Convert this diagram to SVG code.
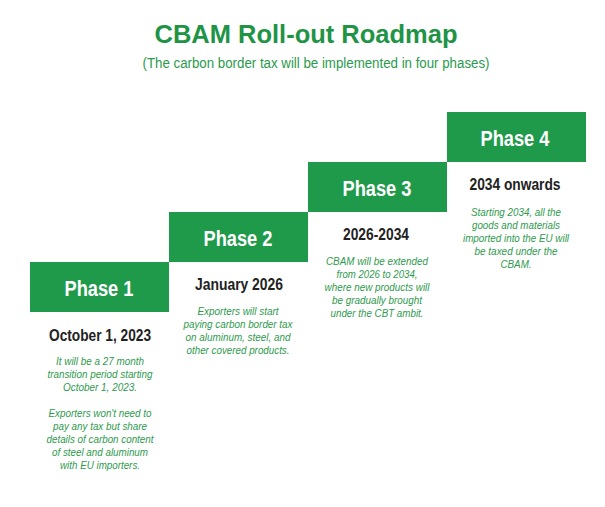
<svg xmlns="http://www.w3.org/2000/svg" width="605" height="507" viewBox="0 0 605 507">
<style>
.bg{fill:#ffffff}
.box{fill:#1f9a4b}
.title{font-family:"Liberation Sans",Arial,sans-serif;font-weight:bold;font-size:25px;fill:#1f9446;text-anchor:middle}
.sub{font-family:"Liberation Sans",Arial,sans-serif;font-size:14px;fill:#2a9a4c;text-anchor:middle}
.ph{font-family:"Liberation Sans",Arial,sans-serif;font-weight:bold;font-size:22px;fill:#ffffff;text-anchor:middle}
.date{font-family:"Liberation Sans",Arial,sans-serif;font-weight:bold;font-size:16px;fill:#222222;text-anchor:middle}
.desc{font-family:"Liberation Sans",Arial,sans-serif;font-style:italic;font-size:11.5px;fill:#2e9a4e;text-anchor:middle}
</style>
<rect class="bg" x="0" y="0" width="605" height="507"/>
<g id="header">
<text class="title" x="306" y="43" textLength="303" lengthAdjust="spacingAndGlyphs">CBAM Roll-out Roadmap</text>
<text class="sub" x="316" y="68" textLength="347" lengthAdjust="spacingAndGlyphs">(The carbon border tax will be implemented in four phases)</text>
</g>
<g id="phase1">
<rect class="box" x="30" y="262" width="139" height="50"/>
<text class="ph" x="99" y="296" textLength="69" lengthAdjust="spacingAndGlyphs">Phase 1</text>
<text class="date" x="100" y="341" textLength="102" lengthAdjust="spacingAndGlyphs">October 1, 2023</text>
<text class="desc" x="100" y="365" textLength="88" lengthAdjust="spacingAndGlyphs">It will be a 27 month</text>
<text class="desc" x="100" y="378" textLength="105" lengthAdjust="spacingAndGlyphs">transition period starting</text>
<text class="desc" x="100" y="391" textLength="74" lengthAdjust="spacingAndGlyphs">October 1, 2023.</text>
<text class="desc" x="100" y="417" textLength="103" lengthAdjust="spacingAndGlyphs">Exporters won't need to</text>
<text class="desc" x="100" y="430" textLength="94" lengthAdjust="spacingAndGlyphs">pay any tax but share</text>
<text class="desc" x="100" y="443" textLength="107" lengthAdjust="spacingAndGlyphs">details of carbon content</text>
<text class="desc" x="100" y="456" textLength="96" lengthAdjust="spacingAndGlyphs">of steel and aluminum</text>
<text class="desc" x="100" y="469" textLength="80" lengthAdjust="spacingAndGlyphs">with EU importers.</text>
</g>
<g id="phase2">
<rect class="box" x="169" y="212" width="139" height="50"/>
<text class="ph" x="238" y="246" textLength="69" lengthAdjust="spacingAndGlyphs">Phase 2</text>
<text class="date" x="239" y="290" textLength="88" lengthAdjust="spacingAndGlyphs">January 2026</text>
<text class="desc" x="238" y="315" textLength="81" lengthAdjust="spacingAndGlyphs">Exporters will start</text>
<text class="desc" x="238" y="328" textLength="109" lengthAdjust="spacingAndGlyphs">paying carbon border tax</text>
<text class="desc" x="238" y="341" textLength="105" lengthAdjust="spacingAndGlyphs">on aluminum, steel, and</text>
<text class="desc" x="238" y="354" textLength="103" lengthAdjust="spacingAndGlyphs">other covered products.</text>
</g>
<g id="phase3">
<rect class="box" x="308" y="162" width="139" height="50"/>
<text class="ph" x="377" y="196" textLength="69" lengthAdjust="spacingAndGlyphs">Phase 3</text>
<text class="date" x="376" y="240" textLength="66" lengthAdjust="spacingAndGlyphs">2026-2034</text>
<text class="desc" x="377" y="265" textLength="102" lengthAdjust="spacingAndGlyphs">CBAM will be extended</text>
<text class="desc" x="377" y="278" textLength="81" lengthAdjust="spacingAndGlyphs">from 2026 to 2034,</text>
<text class="desc" x="377" y="291" textLength="105" lengthAdjust="spacingAndGlyphs">where new products will</text>
<text class="desc" x="377" y="304" textLength="90" lengthAdjust="spacingAndGlyphs">be gradually brought</text>
<text class="desc" x="377" y="317" textLength="93" lengthAdjust="spacingAndGlyphs">under the CBT ambit.</text>
</g>
<g id="phase4">
<rect class="box" x="447" y="112" width="139" height="50"/>
<text class="ph" x="515" y="146" textLength="69" lengthAdjust="spacingAndGlyphs">Phase 4</text>
<text class="date" x="515" y="190" textLength="91" lengthAdjust="spacingAndGlyphs">2034 onwards</text>
<text class="desc" x="516" y="216" textLength="90" lengthAdjust="spacingAndGlyphs">Starting 2034, all the</text>
<text class="desc" x="516" y="229" textLength="88" lengthAdjust="spacingAndGlyphs">goods and materials</text>
<text class="desc" x="516" y="242" textLength="106" lengthAdjust="spacingAndGlyphs">imported into the EU will</text>
<text class="desc" x="516" y="255" textLength="83" lengthAdjust="spacingAndGlyphs">be taxed under the</text>
<text class="desc" x="516" y="268" textLength="31" lengthAdjust="spacingAndGlyphs">CBAM.</text>
</g>
</svg>
